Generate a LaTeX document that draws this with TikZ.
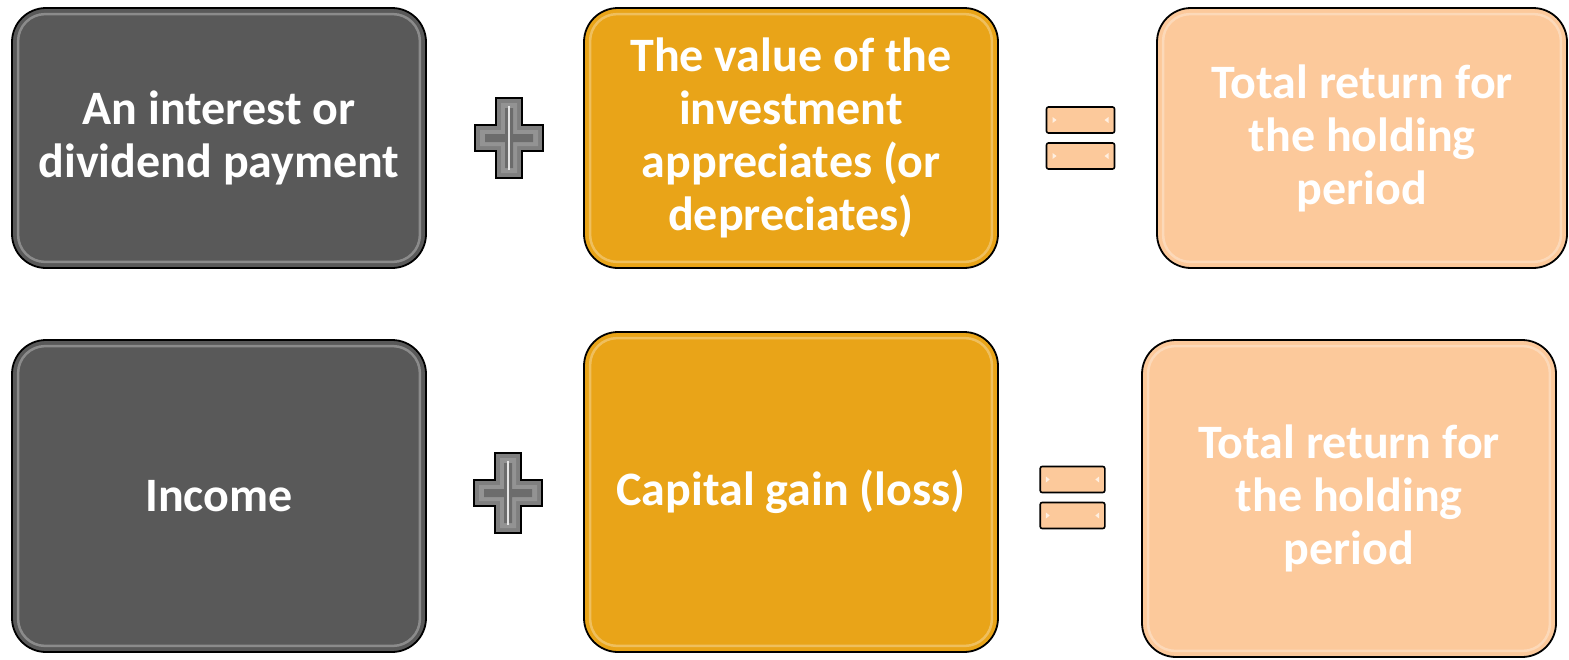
\documentclass[tikz,border=0pt]{standalone}
\usepackage{fontspec}
\setmainfont{Carlito}
\definecolor{slate}{HTML}{595959}
\definecolor{gold}{HTML}{E9A418}
\definecolor{peach}{HTML}{FCC99B}
\definecolor{signgray}{HTML}{7F7F7F}
\begin{document}
\begin{tikzpicture}[x=1pt,y=-1pt,
  box/.style={draw=black, line width=1.8pt, rounded corners=34pt,
    text=white, font=\bfseries\fontsize{48}{53}\selectfont,
    align=center, inner sep=0pt},
  shine/.style={draw=white, draw opacity=.3, line width=2.5pt, rounded corners=27pt},
  plussign/.pic={
    \draw[line width=1.6pt, fill=signgray]
      (-13,-40) -- (13,-40) -- (13,-13) -- (34,-13) -- (34,13) -- (13,13)
      -- (13,40) -- (-13,40) -- (-13,13) -- (-34,13) -- (-34,-13) -- (-13,-13) -- cycle;
    \fill[gray!85!white]
      (-8,-35) -- (8,-35) -- (8,-8) -- (29,-8) -- (29,8) -- (8,8)
      -- (8,35) -- (-8,35) -- (-8,8) -- (-29,8) -- (-29,-8) -- (-8,-8) -- cycle;
    \fill[signgray!85!black]
      (-4,-30) -- (4,-30) -- (4,-4) -- (24,-4) -- (24,4) -- (4,4)
      -- (4,30) -- (-4,30) -- (-4,4) -- (-24,4) -- (-24,-4) -- (-4,-4) -- cycle;
    \draw[white!80!gray, line width=1.2pt] (0,-32) -- (0,32);
  },
  eqsign/.pic={
    \draw[line width=1.6pt, fill=peach, rounded corners=2pt] (-34,-31) rectangle (34,-5);
    \draw[line width=1.6pt, fill=peach, rounded corners=2pt] (-34,5) rectangle (34,31);
    \fill[white!70!peach] (-28,-21) -- (-24,-18) -- (-28,-15) -- cycle
      (28,-21) -- (24,-18) -- (28,-15) -- cycle
      (-28,15) -- (-24,18) -- (-28,21) -- cycle
      (28,15) -- (24,18) -- (28,21) -- cycle;
  }
]
\useasboundingbox (0,0) rectangle (1569,659);

% first row: the worded form of the equation
\node[box, fill=slate, minimum width=414pt, minimum height=260pt] (a1) at (219,138)
  {An interest or\\dividend payment};
\node[box, fill=gold, minimum width=414pt, minimum height=260pt] (b1) at (791,138)
  {The value of the\\investment\\appreciates (or\\depreciates)};
\node[box, fill=peach, minimum width=410pt, minimum height=260pt] (c1) at (1362,138)
  {Total return for\\the holding\\period};

% second row: the short form
\node[box, fill=slate, minimum width=414pt, minimum height=312pt] (a2) at (219,496)
  {Income};
\node[box, fill=gold, minimum width=414pt, minimum height=320pt] (b2) at (791,492)
  {Capital gain (loss)};
\node[box, fill=peach, minimum width=414pt, minimum height=317pt] (c2) at (1349,498.5)
  {Total return for\\the holding\\period};

% inner highlight giving each box a bevelled edge
\foreach \n in {a1,b1,c1,a2,b2,c2}
  \draw[shine] ([shift={(7,7)}]\n.north west) rectangle ([shift={(-7,-7)}]\n.south east);

% operators
\pic at (509,138) {plussign};
\pic at (508,493) {plussign};
\pic at (1080.5,138) {eqsign};
\pic[xscale=0.95] at (1072.5,497.5) {eqsign};
\end{tikzpicture}
\end{document}
